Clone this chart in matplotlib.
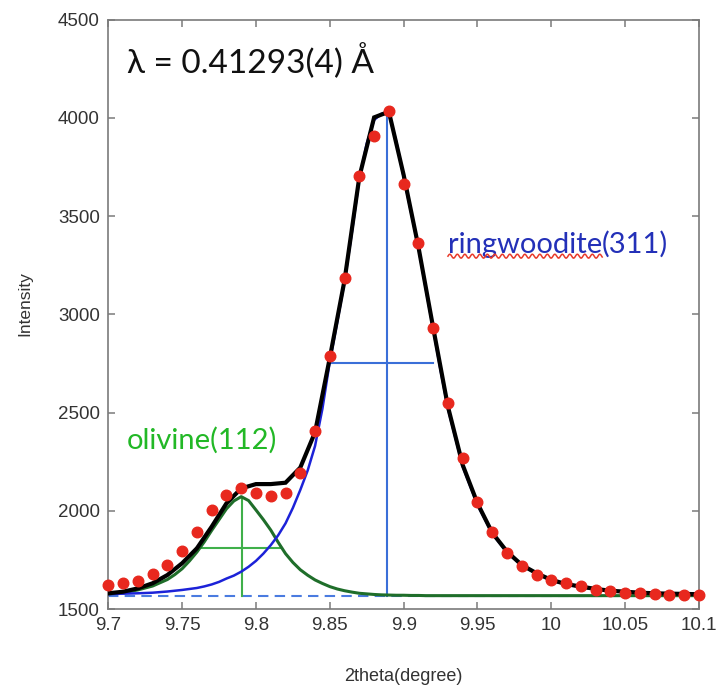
import numpy as np
import matplotlib
matplotlib.use("Agg")
import matplotlib.pyplot as plt
from matplotlib.lines import Line2D

# ---------------- data ----------------
two_theta = [9.70, 9.71, 9.72, 9.73, 9.74, 9.75, 9.76, 9.77, 9.78, 9.79,
             9.80, 9.81, 9.82, 9.83, 9.84, 9.85, 9.86, 9.87, 9.88, 9.89,
             9.90, 9.91, 9.92, 9.93, 9.94, 9.95, 9.96, 9.97, 9.98, 9.99,
             10.00, 10.01, 10.02, 10.03, 10.04, 10.05, 10.06, 10.07, 10.08, 10.09, 10.10]

observed = [1622, 1631, 1643, 1677, 1724, 1796, 1893, 2005, 2080, 2116,
            2090, 2073, 2093, 2195, 2405, 2787, 3184, 3706, 3906, 4034,
            3663, 3361, 2932, 2551, 2269, 2044, 1891, 1787, 1719, 1673,
            1648, 1631, 1619, 1597, 1592, 1583, 1580, 1576, 1571, 1571, 1571]

total_fit = [1580, 1588, 1605, 1631, 1673, 1733, 1809, 1919, 2038, 2114,
             2136, 2136, 2143, 2220, 2400, 2779, 3175, 3700, 4003, 4032,
             3710, 3344, 2932, 2530, 2233, 2038, 1888, 1792, 1724, 1682,
             1648, 1627, 1614, 1602, 1593, 1588, 1583, 1580, 1578, 1577, 1575]

# component fits read on a finer grid
fine_theta = [9.700, 9.710, 9.720, 9.730, 9.740, 9.745, 9.750, 9.755, 9.760, 9.765,
              9.770, 9.775, 9.780, 9.785, 9.790, 9.795, 9.800, 9.805, 9.810, 9.815,
              9.820, 9.825, 9.830, 9.835, 9.840, 9.845, 9.850, 9.855, 9.860, 9.865,
              9.870, 9.875, 9.880, 9.885, 9.890, 9.895, 9.900, 9.905, 9.910, 9.915,
              9.920, 9.925, 9.930, 9.940, 9.950, 9.960, 9.970, 9.980, 9.990, 10.000,
              10.010, 10.020, 10.030, 10.040, 10.050, 10.060, 10.070, 10.080, 10.090, 10.100]

ringwoodite_fit = [1576, 1578, 1580, 1583, 1589, 1593, 1597, 1602, 1607, 1615,
                   1625, 1638, 1655, 1670, 1690, 1715, 1745, 1782, 1825, 1875,
                   1936, 2015, 2106, 2205, 2330, 2520, 2760, 2960, 3168, 3420,
                   3690, 3870, 3990, 4022, 4020, 3880, 3700, 3520, 3340, 3130,
                   2925, 2715, 2520, 2225, 2030, 1884, 1788, 1722, 1680, 1646,
                   1625, 1612, 1600, 1592, 1587, 1582, 1579, 1577, 1576, 1575]

olivine_fit = [1577, 1582, 1597, 1617, 1650, 1675, 1705, 1745, 1790, 1842,
               1900, 1955, 2010, 2050, 2072, 2052, 2004, 1955, 1902, 1840,
               1782, 1737, 1700, 1672, 1648, 1630, 1614, 1602, 1593, 1586,
               1580, 1577, 1574, 1572, 1571, 1570, 1570, 1569, 1569, 1568,
               1568, 1568, 1568, 1568, 1568, 1568, 1568, 1568, 1568, 1568,
               1568, 1568, 1568, 1568, 1568, 1568, 1568, 1568, 1568, 1568]

background = 1568

ring_center = 9.889
ring_peak = 4025
ring_half = 2752
ring_fwhm_lo, ring_fwhm_hi = 9.850, 9.920

oliv_center = 9.7905
oliv_peak = 2072
oliv_half = 1809
oliv_fwhm_lo, oliv_fwhm_hi = 9.7595, 9.8178

x_ticks = [9.7, 9.75, 9.8, 9.85, 9.9, 9.95, 10.0, 10.05, 10.1]
x_tick_labels = ["9.7", "9.75", "9.8", "9.85", "9.9", "9.95", "10", "10.05", "10.1"]
y_ticks = [1500, 2000, 2500, 3000, 3500, 4000, 4500]

# ---------------- figure ----------------
W, H = 722, 691
fig = plt.figure(figsize=(W / 100, H / 100), dpi=100)
ax = fig.add_axes([108.3 / W, 1 - 609 / H, (699 - 108.3) / W, (609 - 19.8) / H])
ax.set_xlim(9.7, 10.1)
ax.set_ylim(1500, 4500)

# baseline
ax.axhline(background, color="#4a7be0", lw=1.5, ls=(0, (5, 3)), zorder=2)

# marker lines for peaks
ax.plot([ring_center, ring_center], [background, ring_peak], color="#3a6fd8", lw=1.5, zorder=2)
ax.plot([ring_fwhm_lo, ring_fwhm_hi], [ring_half, ring_half], color="#3a6fd8", lw=1.5, zorder=2)
ax.plot([oliv_center, oliv_center], [background, oliv_peak], color="#3fb04a", lw=1.5, zorder=2)
ax.plot([oliv_fwhm_lo, oliv_fwhm_hi], [oliv_half, oliv_half], color="#3fb04a", lw=1.5, zorder=2)

# component fits
ax.plot(fine_theta, olivine_fit, color="#1f6e2a", lw=2.2, zorder=3)
ax.plot(fine_theta, ringwoodite_fit, color="#1c22d8", lw=1.8, zorder=3)
# total fit
ax.plot(two_theta, total_fit, color="black", lw=3.0, zorder=4, solid_joinstyle="miter")
# observed
ax.plot(two_theta, observed, ls="none", marker="o", ms=7.6, color="#e8281e", mec="#e8281e",
        zorder=5, clip_on=False)

# axes styling
for s in ax.spines.values():
    s.set_color("#7a7a7a")
    s.set_linewidth(1.2)
ax.set_xticks(x_ticks)
ax.set_xticklabels(x_tick_labels)
ax.set_yticks(y_ticks)
ax.tick_params(direction="in", length=5, width=1.1, color="#7a7a7a",
               top=True, right=True, labelsize=13.5, labelcolor="#333333", pad=6)
for lab in ax.get_xticklabels() + ax.get_yticklabels():
    lab.set_fontfamily("Liberation Sans")

ax.set_xlabel("2theta(degree)", fontsize=13, color="#333333", family="Liberation Sans", labelpad=24)
ax.set_ylabel("Intensity", fontsize=12.5, color="#333333", family="Liberation Sans")
ax.yaxis.set_label_coords(-0.128, 0.519)

# annotations
ax.text(9.7127, 4290, "λ = 0.41293(4) Å", fontsize=24, family=["Lato", "DejaVu Sans"],
        color="#111111", va="center", ha="left")
ax.text(9.7127, 2360, "olivine(112)", fontsize=21, family=["Lato", "DejaVu Sans"],
        color="#22b826", va="center", ha="left")
t1 = ax.text(9.930, 3355, "ringwoodite", fontsize=21, family=["Lato", "DejaVu Sans"],
             color="#2330b8", va="center", ha="left")
t2 = ax.annotate("(311)", xy=(1, 0), xycoords=t1, va="bottom", ha="left",
                 fontsize=21, family=["Lato", "DejaVu Sans"], color="#2330b8")

# spell-check style red squiggle under "ringwoodite"
fig.canvas.draw()
bb = t1.get_window_extent()
xs = np.linspace(bb.x0, bb.x1, 200)
ys = bb.y0 + 1.5 + 2.0 * np.sin((xs - bb.x0) / 7.5 * 2 * np.pi)
inv = fig.transFigure.inverted()
pts = inv.transform(np.column_stack([xs, ys]))
fig.add_artist(Line2D(pts[:, 0], pts[:, 1], color="#e83a2a", lw=1.1, transform=fig.transFigure))

fig.savefig("out.png", dpi=100)
